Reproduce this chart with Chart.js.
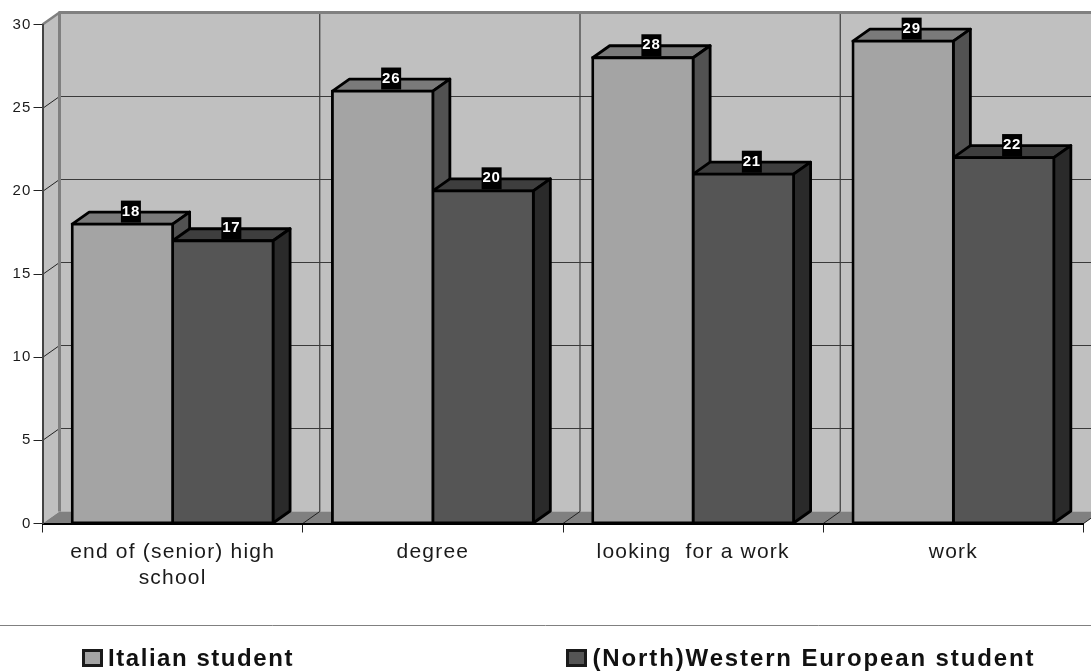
<!DOCTYPE html>
<html><head><meta charset="utf-8">
<style>html,body{margin:0;padding:0;background:#fff}canvas{display:block}</style>
<script src="https://cdn.jsdelivr.net/npm/chart.js@4"></script>
</head><body><canvas id="c" width="1091" height="671" style="width:1091px;height:671px"></canvas>
<script>
const categories = [["end of (senior) high","school"],"degree","looking  for a work","work"];
const italian = [18,26,28,29];
const european = [17,20,21,22];
const seriesNames = ["Italian student","(North)Western European student"];
const yTicks = [0,5,10,15,20,25,30];

const FONT = '"Liberation Sans", Arial, sans-serif';
const DX = 17, DY = 12;
const WALL='#c0c0c0', EDGE='#808080', GRIDC='#3a3a3a';
const looks = [
  {front:'#a4a4a4', top:'#7a7a7a', side:'#525252'},
  {front:'#555555', top:'#3e3e3e', side:'#2a2a2a'}
];
const legendX = [83.5, 567.5], legendTextX = [108, 592.5], legendSpacing = ['1.55px','1.87px'];

function poly(ctx, pts, fill, stroke, lw){
  ctx.beginPath();
  pts.forEach((p,i)=> i?ctx.lineTo(p[0],p[1]):ctx.moveTo(p[0],p[1]));
  ctx.closePath();
  if(fill){ctx.fillStyle=fill;ctx.fill();}
  if(stroke){ctx.strokeStyle=stroke;ctx.lineWidth=lw;ctx.lineJoin='round';ctx.stroke();}
}
function seg(ctx,x1,y1,x2,y2,c,w){ctx.beginPath();ctx.moveTo(x1,y1);ctx.lineTo(x2,y2);ctx.strokeStyle=c;ctx.lineWidth=w;ctx.stroke();}

const threeD = {
  id:'threeD',
  beforeDraw(chart){
    const {ctx,chartArea:a,scales:{x,y}} = chart;
    const W = chart.width;
    ctx.letterSpacing='1.2px';
    ctx.save();
    const t=a.top, b=a.bottom, l=a.left, r=a.right;
    ctx.fillStyle=WALL; ctx.fillRect(l+DX,t-DY,W-l-DX,b-t);
    poly(ctx,[[l,t],[l+DX,t-DY],[l+DX,b-DY],[l,b]],WALL);
    poly(ctx,[[l,b],[l+DX,b-DY],[r+DX,b-DY],[r,b]],EDGE);
    yTicks.forEach(v=>{
      if(v===0||v===30) return;
      const py=Math.round(y.getPixelForValue(v))+0.5;
      seg(ctx,l,py,l+DX,py-DY,'#222',1);
      seg(ctx,l+DX,py-DY,W,py-DY,GRIDC,1.2);
    });
    for(let i=1;i<=categories.length;i++){
      const px=l+(r-l)*i/categories.length;
      if(i<categories.length) seg(ctx,px+DX,t-DY,px+DX,b-DY,GRIDC,1.2);
      seg(ctx,px,b,px+DX,b-DY,'#222',1);
    }
    seg(ctx,l+DX,t-DY,l+DX,b-DY,EDGE,3);
    seg(ctx,l,t,l+DX,t-DY,EDGE,2.5);
    seg(ctx,l+DX-1,t-DY,W,t-DY,EDGE,3);
    ctx.restore();
  },
  beforeDatasetsDraw(chart){
    const ctx=chart.ctx;
    ctx.save();
    chart.data.datasets.forEach((ds,d)=>{
      chart.getDatasetMeta(d).data.forEach(bar=>{
        const L=bar.x-bar.width/2,R=bar.x+bar.width/2,T=bar.y,B=bar.base;
        poly(ctx,[[L,T],[L+DX,T-DY],[R+DX,T-DY],[R,T]],looks[d].top,'#000',2.8);
        poly(ctx,[[R,T],[R+DX,T-DY],[R+DX,B-DY],[R,B]],looks[d].side,'#000',2.8);
      });
    });
    ctx.restore();
  },
  afterDatasetsDraw(chart){
    const ctx=chart.ctx;
    ctx.save();
    chart.data.datasets.forEach((ds,d)=>{
      chart.getDatasetMeta(d).data.forEach((bar,i)=>{
        const cx=bar.x+8.5, T=bar.y;
        ctx.fillStyle='#000';
        ctx.fillRect(cx-10,T-23.5,20,22);
        ctx.fillStyle='#fff';
        ctx.font='bold 15px '+FONT;
        ctx.textAlign='center';ctx.textBaseline='middle';
        ctx.letterSpacing='0.8px';
        ctx.fillText(String(ds.data[i]),cx,T-12.5);
      });
    });
    ctx.restore();
  },
  afterDraw(chart){
    const ctx=chart.ctx;
    ctx.save();
    seg(ctx,0,625.5,chart.width,625.5,'#808080',1);
    chart.data.datasets.forEach((ds,d)=>{
      ctx.fillStyle=looks[d].front;
      ctx.fillRect(legendX[d],650.5,18,15);
      ctx.strokeStyle='#1a1a1a';ctx.lineWidth=3;ctx.lineJoin='miter';
      ctx.strokeRect(legendX[d],650.5,18,15);
      ctx.fillStyle='#111';
      ctx.font='bold 24px '+FONT;
      ctx.letterSpacing=legendSpacing[d];
      ctx.textAlign='left';ctx.textBaseline='middle';
      ctx.fillText(ds.label,legendTextX[d],659);
    });
    ctx.restore();
  }
};

const barStyle={borderColor:'#000',borderWidth:2.8,borderSkipped:false,inflateAmount:1.4};
new Chart(document.getElementById('c'),{
  type:'bar',
  data:{labels:categories,datasets:[
    {label:seriesNames[0],data:italian,backgroundColor:looks[0].front,...barStyle},
    {label:seriesNames[1],data:european,backgroundColor:looks[1].front,...barStyle}
  ]},
  options:{
    responsive:false,animation:false,devicePixelRatio:1,
    layout:{padding:{top:24.5,right:7.5,left:0,bottom:0}},
    plugins:{legend:{display:false},tooltip:{enabled:false},title:{display:false}},
    datasets:{bar:{categoryPercentage:0.772,barPercentage:1}},
    scales:{
      x:{
        afterFit(s){s.height=147.5;},
        grid:{drawOnChartArea:false,tickLength:9,color:'#222',lineWidth:1},
        border:{color:'#000',width:2},
        ticks:{autoSkip:false,maxRotation:0,minRotation:0,color:'#1a1a1a',padding:6.5,font:{family:FONT,size:21,lineHeight:1.24}}
      },
      y:{
        min:0,max:30,
        afterFit(s){s.width=42.5;},
        afterBuildTicks(s){s.ticks=yTicks.map(v=>({value:v}));},
        grid:{drawOnChartArea:false,tickLength:9,color:'#222',lineWidth:1},
        border:{color:'#444',width:2},
        ticks:{color:'#1a1a1a',padding:2,font:{family:FONT,size:15}}
      }
    }
  },
  plugins:[threeD]
});
</script></body></html>
